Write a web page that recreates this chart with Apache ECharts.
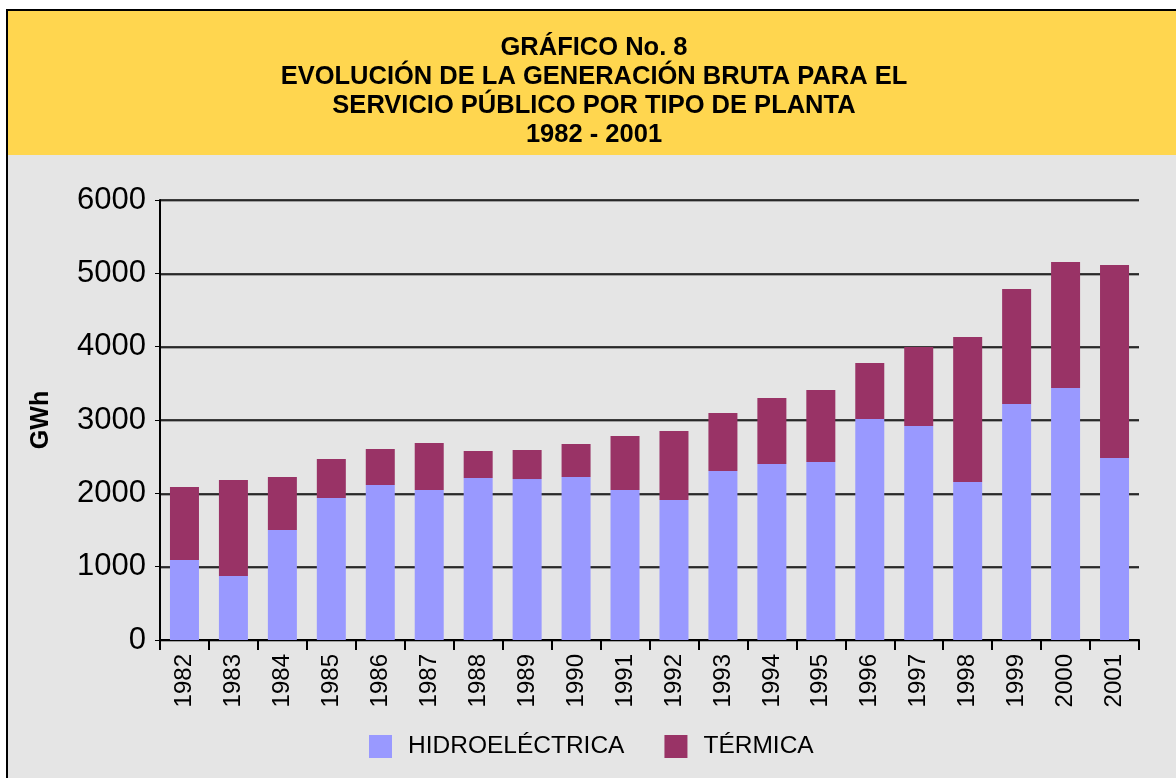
<!DOCTYPE html>
<html>
<head>
<meta charset="utf-8">
<script src="https://cdn.jsdelivr.net/npm/echarts@6/dist/echarts.min.js"></script>
<style>
  html, body { margin: 0; padding: 0; background: #fff; overflow: hidden; }
  #frame {
    position: absolute; left: 6px; top: 9px; width: 1200px; height: 800px;
    border: 2px solid #000; background: #e5e5e5;
  }
  #band { position: absolute; left: 0; top: 0; width: 100%; height: 144px; background: #ffd64f; }
  #chart { position: absolute; left: 0; top: 0; width: 1176px; height: 778px; }
</style>
</head>
<body>
<div id="frame"><div id="band"></div></div>
<div id="chart"></div>
<script>
// años
const years = ["1982", "1983", "1984", "1985", "1986", "1987", "1988", "1989", "1990", "1991",
  "1992", "1993", "1994", "1995", "1996", "1997", "1998", "1999", "2000", "2001"];
// GWh hidroeléctrica
const hidro = [1091, 873, 1500, 1936, 2114, 2045, 2209, 2195, 2223, 2045,
  1909, 2305, 2400, 2427, 3014, 2918, 2155, 3218, 3436, 2482];
// GWh térmica
const termica = [995, 1309, 723, 532, 491, 641, 368, 396, 450, 737,
  941, 790, 900, 982, 763, 1077, 1977, 1568, 1719, 2632];
const yTicks = [0, 1000, 2000, 3000, 4000, 5000, 6000];

const font = "'Liberation Sans', Arial, Helvetica, sans-serif";

let myChart = echarts.init(document.getElementById("chart"));
myChart.setOption({
  backgroundColor: "transparent",
  animation: false,
  textStyle: { fontFamily: font },
  title: {
    text: "GRÁFICO No. 8\nEVOLUCIÓN DE LA GENERACIÓN BRUTA PARA EL\nSERVICIO PÚBLICO POR TIPO DE PLANTA\n1982 - 2001",
    left: 589,
    textAlign: "center",
    top: 28,
    textStyle: { fontFamily: font, fontSize: 25.5, fontWeight: "bold", color: "#000", lineHeight: 29 },
  },
  legend: {
    left: 364,
    top: 729,
    itemWidth: 23,
    itemHeight: 23,
    itemGap: 40,
    icon: "rect",
    textStyle: { fontFamily: font, fontSize: 24.5, color: "#000", padding: [0, 0, 0, 11] },
    data: ["HIDROELÉCTRICA", "TÉRMICA"],
  },
  grid: { left: 160, right: 37, top: 200, bottom: 138 },
  xAxis: {
    type: "category",
    data: years,
    axisLine: { lineStyle: { color: "#000", width: 2 } },
    axisTick: { show: true, length: 10, lineStyle: { color: "#000", width: 2 } },
    axisLabel: { rotate: 90, fontSize: 24, color: "#000", margin: 14, fontFamily: font },
  },
  yAxis: {
    type: "value",
    min: yTicks[0],
    max: yTicks[yTicks.length - 1],
    interval: 1000,
    name: "GWh",
    nameLocation: "middle",
    nameRotate: 90,
    nameGap: 106,
    nameTextStyle: { fontSize: 25, fontWeight: "bold", color: "#000", fontFamily: font },
    axisLine: { show: true, lineStyle: { color: "#000", width: 2 } },
    axisTick: { show: true, length: 5, lineStyle: { color: "#000", width: 1 } },
    axisLabel: { fontSize: 31, color: "#000", margin: 14, fontFamily: font, formatter: (v) => String(v) },
    splitLine: { lineStyle: { color: "#000", width: 1.5, shadowColor: "#888", shadowOffsetY: 1 } },
  },
  series: [
    {
      name: "HIDROELÉCTRICA",
      type: "bar",
      stack: "total",
      barWidth: 29,
      itemStyle: { color: "#9999ff" },
      data: hidro,
    },
    {
      name: "TÉRMICA",
      type: "bar",
      stack: "total",
      barWidth: 29,
      itemStyle: { color: "#993366" },
      data: termica,
    },
  ],
});
</script>
</body>
</html>
